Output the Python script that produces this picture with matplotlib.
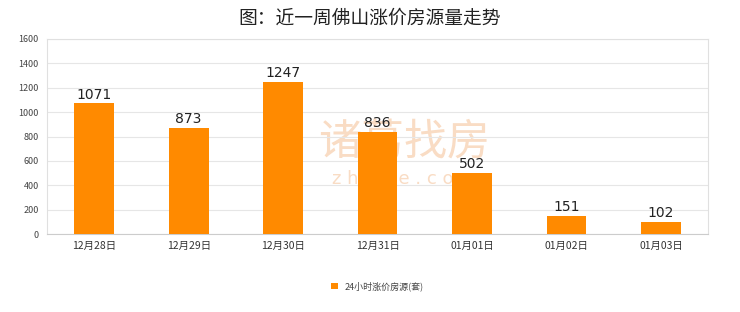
import matplotlib.pyplot as plt
import numpy as np

plt.rcParams['font.family'] = ['Noto Sans CJK SC', 'DejaVu Sans']

dates = ["12月28日", "12月29日", "12月30日", "12月31日", "01月01日", "01月02日", "01月03日"]
counts = [1071, 873, 1247, 836, 502, 151, 102]
yticks = [0, 200, 400, 600, 800, 1000, 1200, 1400, 1600]

fig = plt.figure(figsize=(7.4, 3.12), dpi=100)
ax = fig.add_axes([0.0635, 0.25, 0.8935, 0.625])

x = np.arange(len(dates))
ax.bar(x, counts, width=0.42, color="#ff8a00", zorder=3, label="24小时涨价房源(套)")
for xi, v in zip(x, counts):
    ax.text(xi, v + 15, str(v), ha="center", va="bottom", fontsize=10,
            family="DejaVu Sans", color="#222222", zorder=4)

ax.set_xlim(-0.5, len(dates) - 0.5)
ax.set_ylim(0, 1600)
ax.set_yticks(yticks)
ax.set_xticks(x)
ax.set_xticklabels(dates, fontsize=7.5, color="#333333")
ax.tick_params(axis="y", labelsize=6.5, colors="#444444", length=0, pad=6)
ax.tick_params(axis="x", length=0, pad=5)
ax.grid(axis="y", color="#e6e6e6", linewidth=0.8, zorder=0)
for s in ax.spines.values():
    s.set_color("#e0e0e0")
    s.set_linewidth(0.8)
ax.spines["bottom"].set_color("#cccccc")

# watermark behind the bars
ax.text(0.54, 0.47, "诸葛找房", transform=ax.transAxes, fontsize=31, color="#f9dcc4",
        ha="center", va="center", zorder=1)
ax.text(0.54, 0.28, "z h u g e . c o m", transform=ax.transAxes, fontsize=13,
        color="#f9dcc4", ha="center", va="center", zorder=1, family="DejaVu Sans")

fig.suptitle("图：近一周佛山涨价房源量走势", y=0.975, fontsize=13.5, color="#222222")

ax.legend(loc="upper center", bbox_to_anchor=(0.5, -0.2), frameon=False,
          fontsize=6.5, handlelength=0.7, handleheight=0.7, labelcolor="#444444")

fig.savefig("out.png", dpi=100)
